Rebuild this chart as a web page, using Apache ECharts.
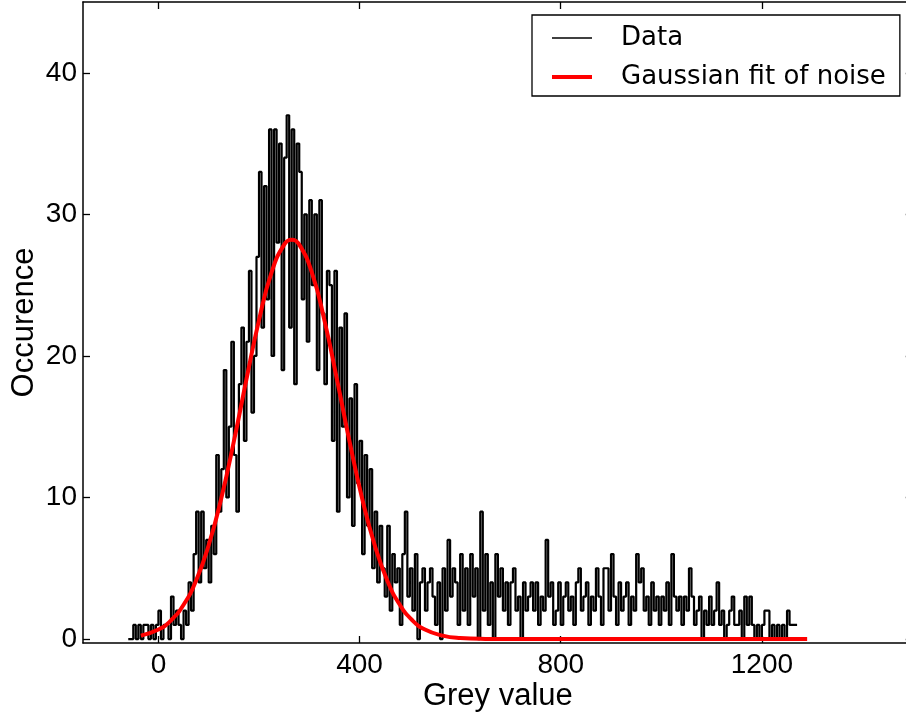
<!DOCTYPE html>
<html><head><meta charset="utf-8">
<script src="https://cdn.jsdelivr.net/npm/echarts@6/dist/echarts.min.js"></script>
<style>html,body{margin:0;padding:0;background:#fff}#c{width:906px;height:715px}</style>
</head><body><div id="c"></div>
<script>
// Histogram bins (left edge of first bin and width, in grey values)
const binStart = -60;
const binWidth = 5;
// Occurrence per bin
const counts = [
  0,0,1,0,1,0,1,1,0,1,
  0,1,2,0,1,1,0,3,1,2,
  1,0,2,1,4,2,6,9,4,9,
  5,7,4,8,6,13,9,12,19,10,
  15,21,13,9,18,22,14,21,26,16,
  20,27,33,22,32,24,36,20,36,28,
  35,19,34,37,22,36,18,35,33,24,
  30,21,31,25,30,19,31,23,18,26,
  25,14,26,9,22,15,23,10,17,8,
  18,11,14,6,13,8,12,5,9,4,
  8,5,3,8,2,6,4,5,1,6,
  9,3,5,2,6,0,4,5,2,4,
  5,3,1,4,0,5,2,7,3,5,
  4,1,6,2,5,1,6,3,5,0,
  9,2,6,1,4,0,6,3,5,2,
  4,1,4,5,2,3,0,4,2,3,
  4,2,4,1,3,2,7,3,4,1,
  2,4,1,3,4,2,3,1,4,5,
  2,3,4,1,3,2,5,3,1,5,
  5,2,6,3,1,4,2,3,4,1,
  3,2,6,4,5,2,3,1,4,2,
  3,1,3,2,4,1,6,3,2,3,
  1,3,2,5,3,1,2,3,0,2,
  1,3,1,2,4,1,2,0,1,2,
  3,1,1,2,0,3,1,3,1,0,
  1,0,1,2,2,0,1,0,1,0,
  1,0,2,1,1,1
];
const fitX = [-35,0,25,50,75,100,125,150,175,200,225,250,265,280,305,330,355,380,405,430,455,480,505,530,565,600,650,700,800,900,1000,1100,1200,1290];
const fitY = [0.24,0.67,1.32,2.42,4.14,6.64,9.95,13.96,18.34,22.53,25.9,27.86,28.2,27.86,25.9,22.53,18.34,13.96,9.95,6.64,4.14,2.42,1.32,0.67,0.24,0.07,0.01,0,0,0,0,0,0,0];
const xTicks = [0,400,800,1200];
const yTicks = [0,10,20,30,40];
const seriesNames = ['Data','Gaussian fit of noise'];

const histData = counts.map((c, i) => [binStart + i * binWidth, c]);
histData.push([binStart + counts.length * binWidth, counts[counts.length - 1]]);
const fitData = fitX.map((x, i) => [x, fitY[i]]);

const tickFont = {fontFamily: 'Liberation Sans', fontSize: 28, color: '#000'};
const lineStyle = {color: '#000', width: 1.5};

function xAx(pos, main) {
  return {
    type: 'value', position: pos, min: -150, max: 1500,
    axisLine: {show: true, onZero: false, lineStyle: lineStyle},
    axisTick: {show: true, inside: true, length: 7, customValues: xTicks, lineStyle: {color: '#000', width: 1.3}},
    axisLabel: Object.assign({show: main, margin: 8, customValues: xTicks, formatter: v => String(v)}, tickFont),
    splitLine: {show: false},
    name: main ? 'Grey value' : '',
    nameLocation: 'middle', nameGap: 38, nameMoveOverlap: false,
    nameTextStyle: {fontFamily: 'Liberation Sans', fontSize: 31, color: '#000'}
  };
}
function yAx(pos, main) {
  return {
    type: 'value', position: pos, min: -0.28, max: 45,
    axisLine: {show: true, onZero: false, lineStyle: lineStyle},
    axisTick: {show: true, inside: true, length: 7, customValues: yTicks, lineStyle: {color: '#000', width: 1.3}},
    axisLabel: Object.assign({show: main, margin: 6, customValues: yTicks, formatter: v => String(v)}, tickFont),
    splitLine: {show: false},
    name: main ? 'Occurence' : '',
    nameLocation: 'middle', nameGap: 43, nameMoveOverlap: false,
    nameTextStyle: {fontFamily: 'Liberation Sans', fontSize: 31, color: '#000'}
  };
}

const chart = echarts.init(document.getElementById('c'), null, {renderer: 'canvas'});
chart.setOption({
  backgroundColor: '#fff',
  animation: false,
  grid: {left: 83, top: 2, width: 829.75, height: 641, containLabel: false, outerBoundsMode: 'none'},
  xAxis: [xAx('bottom', true), xAx('top', false)],
  yAxis: [yAx('left', true), yAx('right', false)],
  legend: {
    orient: 'vertical', left: 532, top: 15,
    padding: [10, 14, 6, 18], itemGap: 13,
    itemWidth: 40, itemHeight: 14,
    itemStyle: {opacity: 0},
    borderColor: '#000', borderWidth: 1.3, backgroundColor: '#fff',
    textStyle: {fontFamily: 'DejaVu Sans', fontSize: 26, color: '#000', padding: [0, 0, 0, 24]},
    data: [
      {name: seriesNames[0], lineStyle: {width: 1.5}},
      {name: seriesNames[1], lineStyle: {width: 4}}
    ]
  },
  series: [
    {name: seriesNames[0], type: 'line', step: 'end', data: histData, xAxisIndex: 0, yAxisIndex: 0,
     symbol: 'none', showSymbol: false, lineStyle: {color: '#000', width: 2.2}, itemStyle: {color: '#000'}, z: 2},
    {name: seriesNames[1], type: 'line', smooth: true, data: fitData, xAxisIndex: 0, yAxisIndex: 0,
     symbol: 'none', showSymbol: false, lineStyle: {color: '#ff0000', width: 4}, itemStyle: {color: '#ff0000'}, z: 3}
  ]
});
</script></body></html>
